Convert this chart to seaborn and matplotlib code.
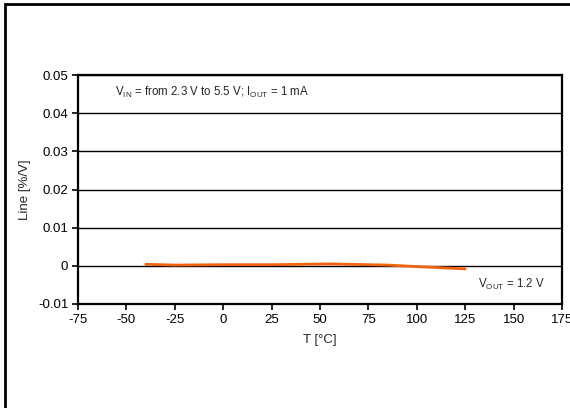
import matplotlib
matplotlib.use("Agg")
import matplotlib.pyplot as plt
import matplotlib.patches as mpatches
import seaborn as sns
import pandas as pd

# Line regulation vs. temperature
temperature = [-40, -25, 0, 25, 55, 85, 100, 125]
line_reg = [0.0004, 0.0002, 0.0003, 0.0003, 0.0005, 0.0002, -0.0002, -0.0008]
x_ticks = [-75, -50, -25, 0, 25, 50, 75, 100, 125, 150, 175]
y_ticks = [-0.01, 0, 0.01, 0.02, 0.03, 0.04, 0.05]
y_tick_labels = ["-0.01", "0", "0.01", "0.02", "0.03", "0.04", "0.05"]

sns.set_theme(style="white")
plt.rcParams["font.family"] = ["Liberation Sans", "DejaVu Sans"]
plt.rcParams["mathtext.fontset"] = "custom"
plt.rcParams["mathtext.rm"] = "Liberation Sans"

df = pd.DataFrame({"T": temperature, "Line": line_reg})

fig = plt.figure(figsize=(5.70, 4.08), dpi=100)
ax = fig.add_axes([78 / 570, 1 - 304 / 408, (562 - 78) / 570, (304 - 75) / 408])

# outer frame around the figure
fig.patches.append(mpatches.Rectangle((4.5 / 570, -0.05), 1.2, 1 - 4.5 / 408 + 0.05,
                                      transform=fig.transFigure, fill=False,
                                      edgecolor="black", linewidth=2, zorder=0))

for y in y_ticks:
    ax.axhline(y, color="black", linewidth=1.0, zorder=1)

sns.lineplot(data=df, x="T", y="Line", ax=ax, color="#F0620C", linewidth=2, zorder=3)

ax.set_xlim(-75, 175)
ax.set_ylim(-0.01, 0.05)
ax.set_xticks(x_ticks)
ax.set_xticklabels([str(v) for v in x_ticks])
ax.set_yticks(y_ticks)
ax.set_yticklabels(y_tick_labels)
ax.tick_params(axis="both", which="major", direction="out", length=4, width=1.2,
               labelsize=9.5, color="black", labelcolor="black", pad=3,
               bottom=True, left=True)
for sp in ax.spines.values():
    sp.set_color("black")
    sp.set_linewidth(1.6)

ax.set_xlabel("T [°C]", fontsize=9.5, labelpad=6)
ax.set_ylabel("Line [%/V]", fontsize=9.5, labelpad=5)

ax.text(-56, 0.0455, r"V$_\mathregular{IN}$ = from 2.3 V to 5.5 V; I$_\mathregular{OUT}$ = 1 mA",
        fontsize=8.3, va="center", ha="left")
ax.text(166, -0.0050, r"V$_\mathregular{OUT}$ = 1.2 V", fontsize=8.3, va="center", ha="right")

fig.savefig("out.png", dpi=100)
